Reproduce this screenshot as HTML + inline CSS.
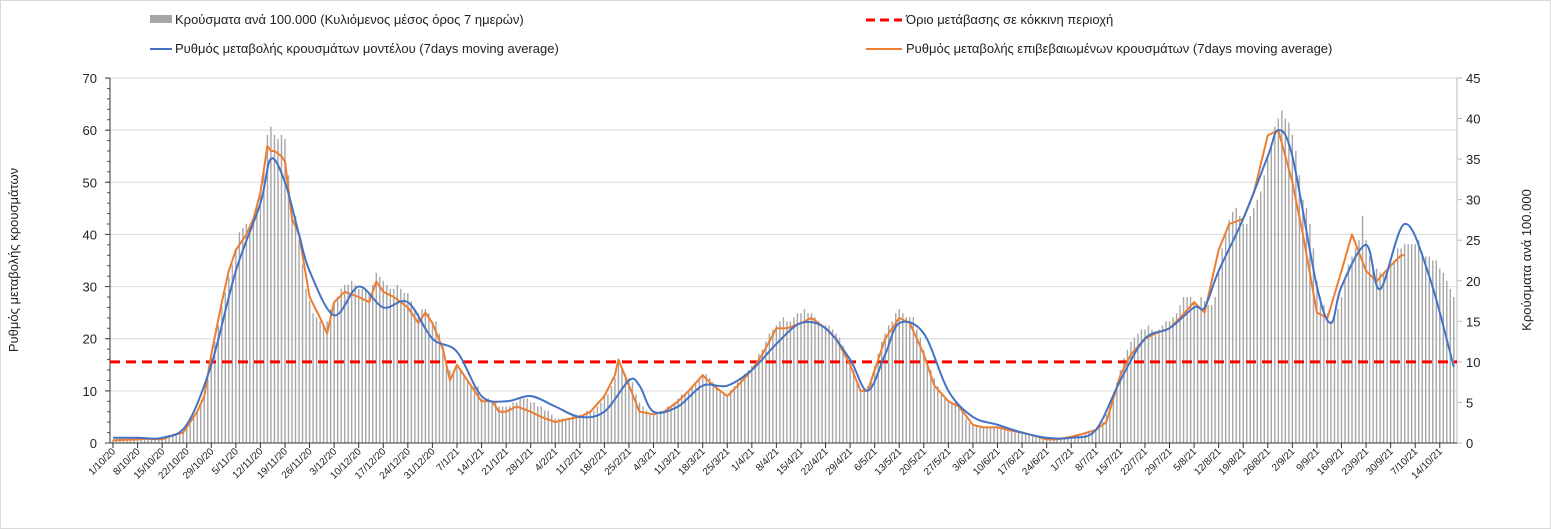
<!DOCTYPE html>
<html><head><meta charset="utf-8"><style>
html,body{margin:0;padding:0;background:#fff;}
svg{display:block;font-family:"Liberation Sans","DejaVu Sans",sans-serif;}
</style></head><body>
<svg id="chart" width="1551" height="529" viewBox="0 0 1551 529" xmlns="http://www.w3.org/2000/svg">
<rect x="0.5" y="0.5" width="1550" height="528" fill="#fff" stroke="#d9d9d9"/>
<g font-size="13" fill="#222">
 <g><rect x="150" y="15" width="22" height="8" fill="#a6a6a6"/><text x="175" y="24">Κρούσματα ανά 100.000 (Κυλιόμενος μέσος όρος 7 ημερών)</text></g>
 <g><line x1="866" y1="20" x2="902" y2="20" stroke="#f00" stroke-width="3" stroke-dasharray="9,5"/><text x="906" y="24">Όριο μετάβασης  σε κόκκινη περιοχή</text></g>
 <g><line x1="150" y1="49" x2="172" y2="49" stroke="#4472c4" stroke-width="2"/><text x="175" y="53">Ρυθμός μεταβολής κρουσμάτων μοντέλου (7days moving average)</text></g>
 <g><line x1="866" y1="49" x2="902" y2="49" stroke="#ed7d31" stroke-width="2"/><text x="906" y="53">Ρυθμός μεταβολής επιβεβαιωμένων κρουσμάτων (7days moving average)</text></g>
</g>
<text transform="translate(18,260) rotate(-90)" text-anchor="middle" font-size="13" fill="#222">Ρυθμός μεταβολής κρουσμάτων</text>
<text transform="translate(1531,260) rotate(-90)" text-anchor="middle" font-size="13" fill="#222">Κρούσματα ανά 100.000</text>
<g id="grid"></g>
<g id="bars"></g>
<g id="axes"></g>
<g id="lines"></g>
</svg>
<script>
const leftTicks=[0,10,20,30,40,50,60,70];
const rightTicks=[0,5,10,15,20,25,30,35,40,45];
const weekLabels=["1/10/20","8/10/20","15/10/20","22/10/20","29/10/20","5/11/20","12/11/20","19/11/20","26/11/20","3/12/20","10/12/20","17/12/20","24/12/20","31/12/20","7/1/21","14/1/21","21/1/21","28/1/21","4/2/21","11/2/21","18/2/21","25/2/21","4/3/21","11/3/21","18/3/21","25/3/21","1/4/21","8/4/21","15/4/21","22/4/21","29/4/21","6/5/21","13/5/21","20/5/21","27/5/21","3/6/21","10/6/21","17/6/21","24/6/21","1/7/21","8/7/21","15/7/21","22/7/21","29/7/21","5/8/21","12/8/21","19/8/21","26/8/21","2/9/21","9/9/21","16/9/21","23/9/21","30/9/21","7/10/21","14/10/21"];
const threshold=10;
const casesDaily=[
0.4,0.5,0.5,0.4,0.5,0.5,0.6, 0.6,0.5,0.6,0.6,0.5,0.6,0.7, 0.8,0.9,1.0,1.0,1.1,1.2,1.3,
1.9,2.3,3.0,3.8,4.8,6.0,7.8, 10.5,12.5,14.5,17.0,18.5,20.5,22.0, 24,26,26.5,27,26.5,27,29,
31,34,38,39,38,37.5,38, 37.5,33,29,28,25,22,19, 17.5,16,15.5,15,14.5,15,16.5,
17.5,18,19,19.5,19.5,20,19.5, 19,19,19,18.5,19.5,21,20.5, 20,19.5,19,19,19.5,19,18.5,
18.5,17.5,16.5,16,16.5,16.5,16, 15,15,13.5,12,10,9,8.5, 9.5,9,8.5,7.5,7,7,7,
5.5,5.5,5.5,5,5,4.5,4.5, 4.5,4.5,5,5,5.5,5.5,5.5, 5,5,4.5,4.5,4,4,3.5,
3,3,3,3,3,3.5,3.5, 3.5,3.5,4,4,4,4.5,5, 6,6,7,8,10,9,8.5,
8,7.5,6,5,4.5,4,3.5, 3.5,3.5,4,4,4.5,4.5,5, 5.5,6,6,6.5,7,7.5,8,
8.5,8.5,8,7.5,7,6.5,6, 6,6.5,7,7.5,8,8.5,9, 9.5,10,11,11.5,12.5,13.5,14,
14.5,15,15.5,15,15,15.5,16, 16,16.5,16,16,15.5,15,14.5, 14.5,14.5,14,13.5,13,12,11,
10,9,7.5,6.5,6.5,7,8, 9.5,11,12.5,13.5,14.5,15,16, 16.5,16,15.5,15.5,15.5,14,13,
11.5,10,9,8,7,6,5.5, 5,5,5,4.5,4,3,2.5, 2.3,2.2,2.1,2,2,1.9,1.9,
1.9,1.8,1.7,1.6,1.5,1.5,1.4, 1.3,1.2,1.1,1,0.9,0.7,0.6, 0.5,0.5,0.5,0.5,0.6,0.6,0.7,
0.8,0.9,1,1.1,1.2,1.3,1.5, 1.7,2,2.6,3.5,4.5,6,7.5, 9,10.5,11.5,12.5,13,13.5,14,
14,14.5,14,13.5,14,14.5,15, 15,15.5,16,17,18,18,18, 17.5,17,18,17.5,17,17,18,
21,24,26,27.5,28.5,29,28, 27,27,28,29,30,31,33, 35,37,39,40,41,40,39.5,
38,36,33,30,29,27,24, 20,18,17,16,15,15.5,16.5, 18,20,22,23,24,25,28,
25,23,22,21.5,21,21,21.5, 22,22.5,24,24,24.5,24.5,24.5, 24.5,25,23.5,23,23,22.5,22.5,
21.5,21,20,19,18];
const confirmedDays=[0,3,7,10,14,17,20,21,24,26,28,31,33,35,38,40,42,44,45,46,48,49,51,53,56,59,61,63,66,70,73,75,77,80,84,87,89,91,94,96,98,101,105,108,110,112,115,119,122,126,129,133,136,140,143,144,147,150,154,157,161,164,168,171,175,178,182,185,189,192,196,199,203,206,210,213,215,217,220,224,227,231,234,238,241,245,248,252,255,259,262,266,269,273,276,280,283,287,290,294,297,301,304,308,311,315,318,322,325,329,332,336,339,343,346,350,353,357,360,364,367,368];
const confirmedVals=[0.5,0.6,0.7,0.8,0.7,1.5,2,3,6,9,17,27,33,37,40,43,48,57,56,56,55,54,43,40,28,24,21,27,29,28,27,31,29,28,26,23,25,23,18,12,15,12,8,8,6,6,7,6,5,4,4.5,5,6,9,13,16,11,6,5.5,6,8,10,13,11,9,11,14,17,22,22,23,24,22,20,15,10,10,14,20,24,23,17,11,8,7,3.5,3,3,2.5,2,1.5,0.7,0.7,1.2,1.7,2.5,4,13,17,20,21,22,24,27,25,37,42,43,48,59,60,50,40,25,24,33,40,33,31,34,36,36];
const modelDays=[0,7,14,21,28,35,42,45,49,53,56,63,70,77,84,91,98,105,112,119,126,133,140,147,150,154,161,168,175,182,189,196,203,210,215,220,224,231,238,245,252,259,266,273,280,287,294,301,308,311,315,322,329,332,336,343,347,350,357,361,368,375,382];
const modelVals=[1,1,1,3.5,15,33,46,54.5,50,40,33,24.5,30,26,27,20,17.5,9,8,9,7,5,6,12,11,6,7,11,11,14,19,23,22,16,10,17,23,21,10,5,3.5,2,1,1,2.5,12,20,22,26,26,33,43,55,60,55,30,23,30,38,29.5,42,32,14.6];

const X0=113, DX=3.51, Y0=443, LEFT=110, RIGHT=1457, TOP=78;
const xDay=d=>X0+d*DX;
const yL=v=>Y0-v*(Y0-TOP)/70;
const yR=v=>Y0-v*(Y0-TOP)/45;
const NS='http://www.w3.org/2000/svg';
function mk(tag,attrs,parent){const e=document.createElementNS(NS,tag);for(const k in attrs)e.setAttribute(k,attrs[k]);parent.appendChild(e);return e;}
const grid=document.getElementById('grid'),bars=document.getElementById('bars'),axes=document.getElementById('axes'),lines=document.getElementById('lines');

leftTicks.forEach(t=>{
 if(t>0){const g=mk('line',{x1:LEFT,x2:RIGHT,y1:yL(t),y2:yL(t),stroke:'#d9d9d9','stroke-width':1},grid);
 
 }
 const tx=mk('text',{x:97,y:yL(t)+5,'text-anchor':'end','font-size':13,fill:'#222'},axes);
 tx.textContent=t;
 
 
 mk('line',{x1:LEFT-5,x2:LEFT,y1:yL(t),y2:yL(t),stroke:'#333'},axes);
});
for(let m=0;m<70;m+=2){mk('line',{x1:LEFT-3,x2:LEFT,y1:yL(m),y2:yL(m),stroke:'#555'},axes);}
rightTicks.forEach(t=>{
 const tx=mk('text',{x:1466,y:yR(t)+5,'text-anchor':'start','font-size':13,fill:'#222'},axes);
 tx.textContent=t;
 
 
 mk('line',{x1:RIGHT,x2:RIGHT+5,y1:yR(t),y2:yR(t),stroke:'#bbb'},axes);
});
casesDaily.forEach((v,i)=>{
 const r=mk('rect',{x:xDay(i)-0.7,y:yR(v),width:1.4,height:Y0-yR(v),fill:'#a6a6a6'},bars);
 
 
});
mk('line',{x1:LEFT,x2:LEFT,y1:TOP,y2:Y0,stroke:'#333'},axes);
mk('line',{x1:RIGHT,x2:RIGHT,y1:TOP,y2:Y0,stroke:'#bbb'},axes);
mk('line',{x1:LEFT,x2:RIGHT,y1:Y0,y2:Y0,stroke:'#333'},axes);
weekLabels.forEach((lab,i)=>{
 const x=xDay(i*7);
 mk('line',{x1:x,x2:x,y1:Y0,y2:Y0+5,stroke:'#333'},axes);
 const t=mk('text',{transform:`translate(${x+3},${Y0+9}) rotate(-45)`,'text-anchor':'end','font-size':10,fill:'#222'},axes);
 t.textContent=lab;
 
 
});
const th=mk('line',{x1:LEFT,x2:RIGHT,y1:yR(threshold),y2:yR(threshold),stroke:'#f00','stroke-width':3,'stroke-dasharray':'10,6'},lines);


const op=mk('path',{d:confirmedDays.map((d,i)=>(i?'L':'M')+xDay(d).toFixed(1)+','+yL(confirmedVals[i]).toFixed(1)).join(''),fill:'none',stroke:'#ed7d31','stroke-width':2,'stroke-linejoin':'round'},lines);


const pts=modelDays.map((d,i)=>[xDay(d),yL(modelVals[i])]);
let dd='M'+pts[0][0]+','+pts[0][1];
for(let i=0;i<pts.length-1;i++){const p0=pts[Math.max(0,i-1)],p1=pts[i],p2=pts[i+1],p3=pts[Math.min(pts.length-1,i+2)];
 dd+=`C${p1[0]+(p2[0]-p0[0])/6},${p1[1]+(p2[1]-p0[1])/6} ${p2[0]-(p3[0]-p1[0])/6},${p2[1]-(p3[1]-p1[1])/6} ${p2[0]},${p2[1]}`;}
const bp=mk('path',{d:dd,fill:'none',stroke:'#4472c4','stroke-width':2},lines);


</script>
</body></html>
